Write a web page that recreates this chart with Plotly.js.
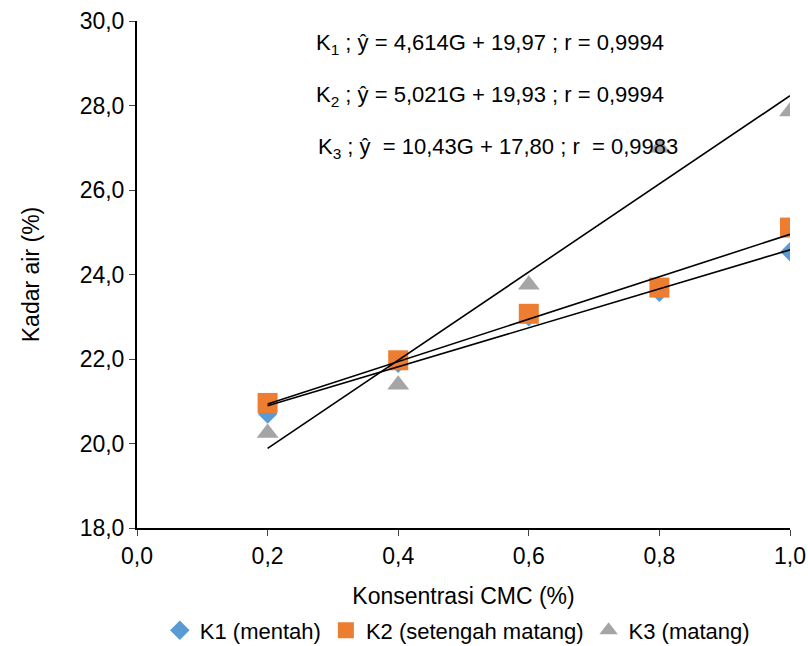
<!DOCTYPE html>
<html>
<head>
<meta charset="utf-8">
<script src="https://cdn.plot.ly/plotly-3.0.1.min.js"></script>
<style>html,body{margin:0;padding:0;background:#fff}#chart{width:808px;height:646px}</style>
</head>
<body>
<div id="chart"></div>
<script>
// Data
var concentrations = [0.2, 0.4, 0.6, 0.8, 1.0];
var k1Values = [20.70, 21.90, 23.00, 23.58, 24.54];
var k2Values = [20.96, 21.97, 23.07, 23.69, 25.11];
var k3Values = [20.25, 21.39, 23.76, 27.00, 27.86];
var seriesNames = ["K1 (mentah)", "K2 (setengah matang)", "K3 (matang)"];
var trendSlopes = [4.614, 5.021, 10.43];
var trendIntercepts = [19.97, 19.93, 17.80];
var equationLabels = [
  "K<sub>1</sub> ; ŷ = 4,614G + 19,97 ; r = 0,9994",
  "K<sub>2</sub> ; ŷ = 5,021G + 19,93 ; r = 0,9994",
  "K<sub>3</sub> ; ŷ  = 10,43G + 17,80 ; r  = 0,9983"
];
var yTickValues = [18, 20, 22, 24, 26, 28, 30];
var xTickValues = [0, 0.2, 0.4, 0.6, 0.8, 1.0];

var FONT = "Liberation Sans, Arial, sans-serif";
var colors = ["#5B9BD5", "#ED7D31", "#A5A5A5"];
var symbols = ["diamond", "square", "triangle-up"];
var sizes = [15, 20, 19];
var allValues = [k1Values, k2Values, k3Values];

var traces = [];
for (var i = 0; i < 3; i++) {
  traces.push({
    x: concentrations, y: allValues[i], name: seriesNames[i],
    type: "scatter", mode: "markers",
    marker: {color: colors[i], symbol: symbols[i], size: sizes[i], line: {width: 0}}
  });
}
var xMin = Math.min.apply(null, concentrations), xMax = Math.max.apply(null, concentrations);
for (var j = 0; j < 3; j++) {
  traces.push({
    x: [xMin, xMax],
    y: [trendSlopes[j] * xMin + trendIntercepts[j], trendSlopes[j] * xMax + trendIntercepts[j]],
    type: "scatter", mode: "lines", showlegend: false, hoverinfo: "skip",
    line: {color: "#000", width: 1.6}
  });
}

var annY = [29.45, 28.22, 26.99];
var annX = [0.54, 0.54, 0.553];
var annotations = equationLabels.map(function (t, k) {
  return {text: t, x: annX[k], y: annY[k], xref: "x", yref: "y", showarrow: false,
    font: {family: FONT, size: 22, color: "#000"}, xanchor: "center", yanchor: "middle"};
});

var layout = {
  width: 808, height: 646,
  margin: {l: 137, r: 18, t: 21, b: 118, autoexpand: false},
  paper_bgcolor: "#fff", plot_bgcolor: "#fff",
  separators: ",.",
  font: {family: FONT, size: 23, color: "#000"},
  showlegend: true,
  legend: {orientation: "h", x: 0.566, xanchor: "center", xref: "container",
    y: 0.024, yanchor: "middle", yref: "container",
    font: {family: FONT, size: 22, color: "#000"}, itemwidth: 30, tracegroupgap: 0},
  xaxis: {range: [0, 1.0], tickvals: xTickValues, tickformat: ".1f", automargin: false,
    showgrid: false, zeroline: false, showline: true, linecolor: "#000", linewidth: 2,
    ticks: "outside", ticklen: 6, tickcolor: "#444", tickwidth: 1,
    tickfont: {family: FONT, size: 23, color: "#000"},
    title: {text: "Konsentrasi CMC (%)", font: {family: FONT, size: 23, color: "#000"}, standoff: 27}},
  yaxis: {range: [18, 30], tickvals: yTickValues, tickformat: ".1f", automargin: false,
    showgrid: false, zeroline: false, showline: true, linecolor: "#000", linewidth: 2,
    ticks: "outside", ticklen: 6, tickcolor: "#444", tickwidth: 1,
    tickfont: {family: FONT, size: 23, color: "#000"},
    title: {text: "Kadar air (%)", font: {family: FONT, size: 23, color: "#000"}, standoff: 34}},
  annotations: annotations
};

Plotly.newPlot("chart", traces, layout, {displayModeBar: false, staticPlot: true});
</script>
</body>
</html>
